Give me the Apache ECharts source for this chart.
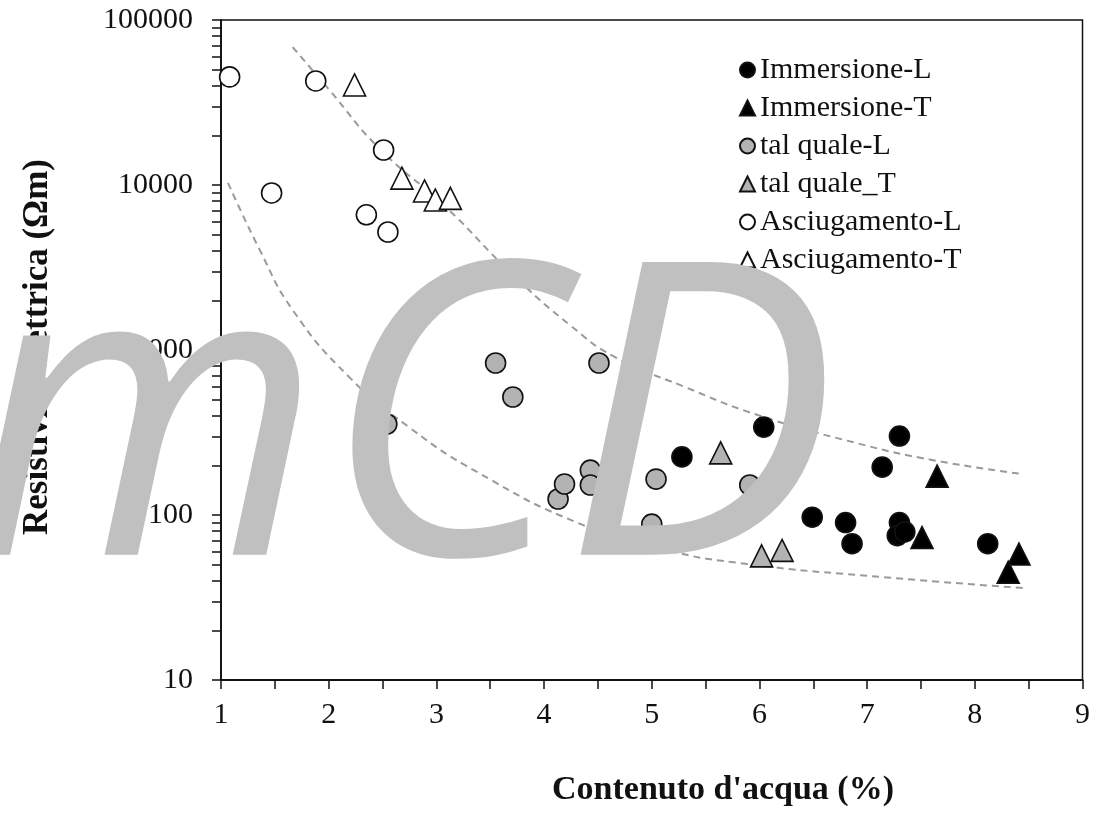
<!DOCTYPE html>
<html>
<head>
<meta charset="utf-8">
<script src="https://cdn.jsdelivr.net/npm/echarts@6/dist/echarts.min.js"></script>
<style>
  html, body { margin: 0; padding: 0; background: #fff; }
  #chart { width: 1093px; height: 814px; }
</style>
</head>
<body>
<div id="chart"></div>
<script>
// Water content (%) vs electrical resistivity (Ωm), pairs of [x, y]
const immersioneL = [[5.28, 225], [6.04, 341], [7.30, 301], [7.14, 195], [6.49, 97], [6.80, 90], [6.86, 67], [7.30, 90], [7.28, 75], [7.35, 79], [8.12, 67]];
const immersioneT = [[7.65, 172], [7.51, 73], [8.41, 58], [8.31, 45]];
const talQualeL = [[2.54, 356], [3.55, 834], [3.71, 519], [4.51, 834], [4.13, 125], [4.19, 154], [4.43, 187], [4.43, 152], [5.04, 165], [5.00, 88], [5.91, 152]];
const talQualeT = [[5.64, 238], [6.02, 56.5], [6.21, 61]];
const asciugamentoL = [[1.08, 45200], [1.47, 8950], [1.88, 42700], [2.51, 16300], [2.35, 6600], [2.55, 5190]];
const asciugamentoT = [[2.24, 40400], [2.68, 11000], [2.89, 9200], [2.99, 8110], [3.13, 8300]];

// Envelope curves (upper and lower trend)
const upperCurve = [[1.665, 68500], [2.006, 37700], [2.468, 16700], [3.087, 7360], [3.7, 2900], [4.25, 1400], [4.657, 907], [5.3, 600], [5.977, 405], [6.9, 273], [7.611, 215], [8.442, 177]];
const lowerCurve = [[1.065, 10300], [1.36, 4040], [1.665, 1750], [2.191, 685], [2.745, 341], [3.392, 180], [4.315, 89.5], [5.1, 62], [5.885, 50.5], [7.131, 42.1], [8.452, 36.1]];

// Axis ticks
const xMin = 1, xMax = 9, xStep = 1;
const yMin = 10, yMax = 100000;
const yTickValues = [];
for (let d = 10; d < 100000; d *= 10) {
  for (let k = 1; k < 10; k++) yTickValues.push(d * k);
}
yTickValues.push(100000);

const serif = '"Liberation Serif", "DejaVu Serif", serif';
const edge = '#111';

function scatter(name, data, symbol, fill, size) {
  return {
    name: name,
    type: 'scatter',
    data: data,
    symbol: symbol,
    symbolSize: size,
    itemStyle: { color: fill, borderColor: edge, borderWidth: 1.6, opacity: 1 },
    z: 3
  };
}

function curve(data) {
  return {
    type: 'line',
    data: data,
    smooth: 0.5,
    symbol: 'none',
    silent: true,
    lineStyle: { color: '#9a9a9a', width: 2, type: [7, 5] },
    z: 2
  };
}

const chart = echarts.init(document.getElementById('chart'));
chart.setOption({
  animation: false,
  backgroundColor: '#fff',
  grid: {
    left: 221, right: 6, top: 20, bottom: 134,
    show: true, borderColor: '#111', borderWidth: 1.5, backgroundColor: 'transparent'
  },
  legend: {
    orient: 'vertical',
    left: 734, top: 50,
    itemWidth: 15, itemHeight: 15, itemGap: 8,
    textStyle: { fontFamily: serif, fontSize: 30, color: '#111' },
    data: ['Immersione-L', 'Immersione-T', 'tal quale-L', 'tal quale_T', 'Asciugamento-L', 'Asciugamento-T']
  },
  xAxis: {
    type: 'value',
    min: xMin, max: xMax, interval: xStep,
    axisLine: { lineStyle: { color: '#111', width: 1.8 } },
    axisTick: { length: 9, lineStyle: { color: '#111', width: 1.5 } },
    minorTick: { show: true, splitNumber: 2, length: 9, lineStyle: { color: '#111', width: 1.5 } },
    splitLine: { show: false },
    axisLabel: { fontFamily: serif, fontSize: 30, color: '#111', margin: 20 }
  },
  yAxis: {
    type: 'log',
    logBase: 10,
    min: yMin, max: yMax,
    axisLine: { lineStyle: { color: '#111', width: 1.8 } },
    axisTick: { length: 9, customValues: yTickValues, lineStyle: { color: '#111', width: 1.5 } },
    splitLine: { show: false },
    axisLabel: {
      fontFamily: serif, fontSize: 30, color: '#111', margin: 28,
      formatter: v => String(Math.round(v))
    }
  },
  series: [
    curve(upperCurve),
    curve(lowerCurve),
    scatter('Immersione-L', immersioneL, 'circle', '#000', 20),
    scatter('Immersione-T', immersioneT, 'triangle', '#000', 22),
    scatter('tal quale-L', talQualeL, 'circle', '#b3b3b3', 20),
    scatter('tal quale_T', talQualeT, 'triangle', '#b3b3b3', 22),
    scatter('Asciugamento-L', asciugamentoL, 'circle', '#fff', 20),
    scatter('Asciugamento-T', asciugamentoT, 'triangle', '#fff', 22)
  ],
  graphic: [
    {
      type: 'text', x: 723, y: 790, z: 50,
      style: { text: "Contenuto d'acqua (%)", font: 'bold 34px ' + serif, fill: '#111', align: 'center', verticalAlign: 'middle' }
    },
    {
      type: 'text', x: 38, y: 347, rotation: Math.PI / 2, z: 50,
      style: { text: 'Resistività elettrica (Ωm)', font: 'bold 35px ' + serif, fill: '#111', align: 'center', verticalAlign: 'middle' }
    },
    {
      type: 'text', x: -35, y: 233, z: 100,
      style: { text: 'mCD', font: 'italic 410px "Open Sans"', fill: '#c0c0c0', align: 'left', verticalAlign: 'top' }
    }
  ]
});
</script>
</body>
</html>
